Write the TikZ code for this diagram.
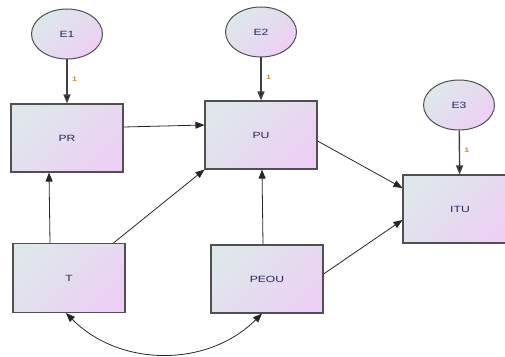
\documentclass[tikz,border=0pt]{standalone}
\usepackage{fontspec}
\usepackage{tikz}
\usetikzlibrary{arrows.meta,shapes.geometric}
\newfontfamily\amosfont[FakeStretch=1.35]{Liberation Sans}
\definecolor{boxA}{RGB}{222,231,235}
\definecolor{boxB}{RGB}{236,208,243}
\definecolor{rimgray}{RGB}{80,80,80}
\definecolor{labnavy}{RGB}{40,40,90}
\definecolor{oneorange}{RGB}{200,140,30}
\tikzset{
	obsvar/.style={shape=rectangle,draw=rimgray,line width=1.1pt,minimum width=112pt,minimum height=68pt,
		shading=axis,top color=boxA,bottom color=boxB,shading angle=45,
		font=\amosfont\fontsize{9}{10}\selectfont,text=labnavy},
	errvar/.style={shape=ellipse,draw=rimgray,line width=1pt,minimum width=71pt,minimum height=50pt,inner sep=0pt,
		shading=axis,top color=boxA,bottom color=boxB,shading angle=45,
		font=\amosfont\fontsize{9}{10}\selectfont,text=labnavy},
	weight/.style={font=\amosfont\bfseries\fontsize{6.5}{7}\selectfont,text=oneorange,pos=0.45,right=1pt}
}

\begin{document}
\begin{tikzpicture}[x=1pt,y=1pt,>={Triangle[length=9pt,width=7pt]},line width=0.8pt,draw=black!85]
					\useasboundingbox (0,0) rectangle (505,356);
					% error terms
					\node (E1) [errvar] at (67,322) {E1};
					\node (E2) [errvar] at (261,324) {E2};
					\node (E3) [errvar] at (459,251) {E3};
					% observed variables
					\node (PR) [obsvar] at (67,218) {PR};
					\node (PU) [obsvar] at (261,221) {PU};
					\node (ITU) [obsvar,minimum width=114pt] at (460,147) {ITU};
					\node (T) [obsvar,minimum height=69pt] at (69,78) {T};
					\node (PEOU) [obsvar] at (267,77) {PEOU};

					\path[->,line width=1.4pt,draw=black!75](E1) edge node[weight] {1} (PR);
					\path[->,line width=1.4pt,draw=black!75](E2) edge node[weight] {1} (PU);
					\path[->,line width=1.4pt,draw=black!75](E3) edge node[weight] {1} (ITU);

					\path[->]([yshift=11pt]PR.east) edge ([yshift=10pt]PU.west);
					\path[->]([xshift=-19pt]T.north) edge ([xshift=-18pt]PR.south);
					\path[->]([xshift=-12pt]T.north east) edge (PU.south west);
					\path[->]([xshift=-4pt]PEOU.north) edge ([xshift=1pt]PU.south);
					\path[->]([yshift=-6pt]PU.east) edge ([yshift=21pt]ITU.west);
					\path[->]([yshift=5pt]PEOU.east) edge ([yshift=-11pt]ITU.west);
					\path[<->]([xshift=-3pt]T.south) edge[bend right=45] ([xshift=-5pt]PEOU.south);
				\end{tikzpicture}
\end{document}
